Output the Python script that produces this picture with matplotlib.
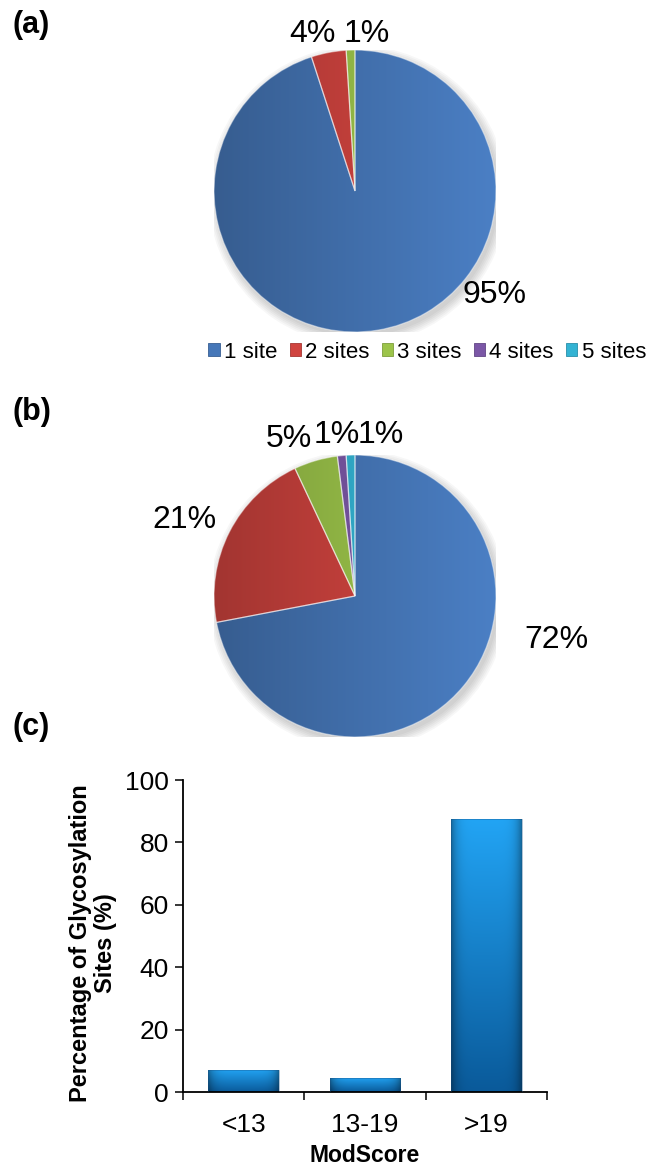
import numpy as np
import matplotlib.pyplot as plt
from matplotlib.colors import to_rgb
from matplotlib.patches import Patch, Circle

plt.rcParams['font.family'] = ['Liberation Sans', 'DejaVu Sans']

# number of glycosylation sites per peptide
sites = ['1 site', '2 sites', '3 sites', '4 sites', '5 sites']
site_colors = ['#4677b8', '#d0443f', '#9cc44a', '#7b57a6', '#33b3d3']
pie_a = [95, 4, 1]
pie_b = [72, 21, 5, 1, 1]

# ModScore distribution
modscore = ['<13', '13-19', '>19']
pct_sites = [7.1, 4.6, 87.4]

# label positions in pie units (radius = 1)
label_pos_a = [(0.99, -0.74), (-0.30, 1.11), (0.08, 1.11)]
label_pos_b = [(1.43, -0.31), (-1.21, 0.54), (-0.47, 1.11), (-0.13, 1.14), (0.18, 1.14)]

W, H = 648, 1168
fig = plt.figure(figsize=(W / 100, H / 100), dpi=100)


def px_axes(x0, y0, w, h):
    return fig.add_axes([x0 / W, 1 - (y0 + h) / H, w / W, h / H])


def shade(c, f):
    return np.clip(np.array(to_rgb(c)) * f, 0, 1)


def draw_pie(cx, cy, r, values, label_pos):
    ax = px_axes(cx - r, cy - r, 2 * r, 2 * r)
    for k in range(6):
        ax.add_patch(Circle((0.02, -0.03), 1 + 0.012 * k, color='k',
                            alpha=0.03, lw=0, zorder=0))
    wedges, _ = ax.pie(values, colors=site_colors[:len(values)], startangle=90,
                       counterclock=False, radius=1,
                       wedgeprops=dict(linewidth=0.9, edgecolor=(1, 1, 1, 0.45)))
    t = np.linspace(0, 1, 256)
    for w, c in zip(wedges, site_colors):
        lo, hi = shade(c, 0.78), shade(c, 1.07)
        img = lo[None, None, :] * (1 - t[None, :, None]) + hi[None, None, :] * t[None, :, None]
        img = np.repeat(img, 2, axis=0)
        im = ax.imshow(img, extent=(-1, 1, -1, 1), aspect='auto',
                       interpolation='bilinear', zorder=2)
        im.set_clip_path(w)
        w.set_facecolor('none')
        w.set_zorder(3)
    for v, (lx, ly) in zip(values, label_pos):
        ax.text(lx, ly, f'{v}%', fontsize=23, ha='center', va='center', clip_on=False)
    ax.set_xlim(-1, 1)
    ax.set_ylim(-1, 1)
    ax.axis('off')
    return ax


draw_pie(355, 191, 141, pie_a, label_pos_a)
draw_pie(355, 596, 141, pie_b, label_pos_b)

handles = [Patch(facecolor=c, edgecolor=shade(c, 0.8), linewidth=0.6) for c in site_colors]
fig.legend(handles, sites, loc='center right', bbox_to_anchor=(646 / W, 1 - 352 / H),
           ncol=5, frameon=False, fontsize=16, handlelength=0.5, handleheight=0.5,
           handletextpad=0.2, columnspacing=0.55, borderaxespad=0, borderpad=0)

# bar chart
axc = px_axes(183, 780, 547 - 183, 1092 - 780)
x = np.arange(len(modscore))
bars = axc.bar(x, pct_sites, width=0.58, color='#0a7fd0', edgecolor='none', zorder=2)
top, bot = np.array(to_rgb('#22a4f4')), np.array(to_rgb('#0a5a9a'))
u = np.linspace(0, 1, 64)
edge = 1 - 0.35 * np.abs(2 * u - 1) ** 6
for b in bars:
    v = np.linspace(1, 0, 128)[:, None, None]
    img = (bot * (1 - v) + top * v) * edge[None, :, None]
    x0 = b.get_x()
    im = axc.imshow(np.clip(img, 0, 1), extent=(x0, x0 + b.get_width(), 0, b.get_height()),
                    aspect='auto', interpolation='bilinear', zorder=2)
    im.set_clip_path(b)
    b.set_facecolor('none')
    b.set_edgecolor((0.1, 0.3, 0.5, 0.4))
    b.set_linewidth(0.6)
    b.set_zorder(3)

axc.set_xlim(-0.5, len(modscore) - 0.5)
axc.set_ylim(0, 100)
axc.set_yticks(range(0, 101, 20))
axc.set_xticks(x, modscore)
axc.set_xticks(np.arange(-0.5, len(modscore), 1.0), minor=True)
axc.tick_params(axis='x', which='major', length=0, pad=15, labelsize=19)
axc.tick_params(axis='x', which='minor', length=6, width=1.1, direction='out')
axc.tick_params(axis='y', length=6, width=1.1, pad=4, labelsize=19)
for s in ('top', 'right'):
    axc.spines[s].set_visible(False)
for s in ('left', 'bottom'):
    axc.spines[s].set_linewidth(1.3)

fig.text(93 / W, 1 - 943 / H, 'Percentage of Glycosylation\nSites (%)', rotation=90,
         ha='center', va='center', fontsize=17, fontweight='bold', linespacing=1.15)
fig.text(365 / W, 1 - 1155 / H, 'ModScore', ha='center', va='center',
         fontsize=16.5, fontweight='bold')

for lab, yy in (('(a)', 25), ('(b)', 412), ('(c)', 727)):
    fig.text(12 / W, 1 - yy / H, lab, ha='left', va='center', fontsize=22, fontweight='bold')

fig.savefig('out.png', dpi=100)
